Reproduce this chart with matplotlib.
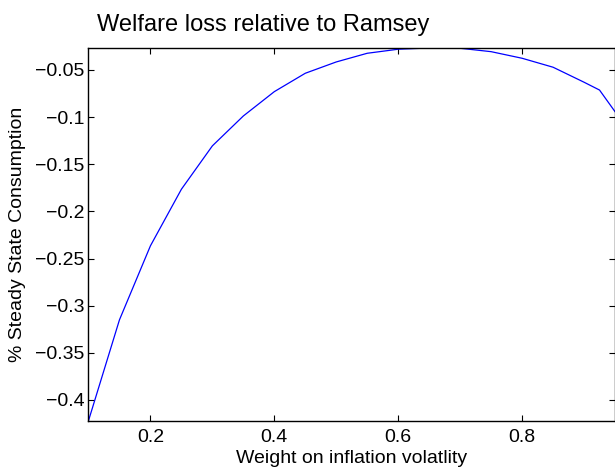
import matplotlib
matplotlib.use('Agg')
import matplotlib.pyplot as plt

plt.rcParams['font.family'] = ['Liberation Sans', 'DejaVu Sans']

# weight on inflation volatility vs welfare loss (% of steady state consumption)
weight = [0.10, 0.15, 0.20, 0.25, 0.30, 0.35, 0.40, 0.45, 0.50, 0.55,
          0.60, 0.65, 0.70, 0.75, 0.80, 0.85, 0.90, 0.925, 0.95]
loss = [-0.422, -0.315, -0.2365, -0.1765, -0.1305, -0.0988, -0.0730, -0.0535,
        -0.0415, -0.0323, -0.0280, -0.0267, -0.0270, -0.0306, -0.0376,
        -0.0471, -0.0630, -0.0713, -0.0942]

xticks = [0.2, 0.4, 0.6, 0.8]
xtick_labels = ['0.2', '0.4', '0.6', '0.8']
yticks = [-0.4, -0.35, -0.3, -0.25, -0.2, -0.15, -0.1, -0.05]
ytick_labels = ['\u22120.4', '\u22120.35', '\u22120.3', '\u22120.25',
                '\u22120.2', '\u22120.15', '\u22120.1', '\u22120.05']

fig = plt.figure(figsize=(6.15, 4.7), dpi=100)
ax = fig.add_axes([0.1439, 0.1049, 0.8561, 0.7930])

ax.plot(weight, loss, color='#0000ff', lw=0.9)
ax.set_xlim(min(weight), max(weight))
ax.set_ylim(min(loss), max(loss))

ax.set_xticks(xticks)
ax.set_xticklabels(xtick_labels)
ax.set_yticks(yticks)
ax.set_yticklabels(ytick_labels)
ax.tick_params(direction='in', length=4, width=0.8, labelsize=14,
               top=True, right=True)
ax.tick_params(axis='y', pad=3)
ax.tick_params(axis='x', pad=6)
for s in ax.spines.values():
    s.set_linewidth(1.0)

ax.set_xlabel('Weight on inflation volatlity', fontsize=14)
ax.set_ylabel('% Steady State Consumption', fontsize=14)
ax.xaxis.set_label_coords(0.5, -0.078)
ax.yaxis.set_label_coords(-0.118, 0.5)
fig.text(97 / 615, 1 - 30.7 / 470, 'Welfare loss relative to Ramsey',
         fontsize=17, ha='left', va='baseline')

fig.savefig('out.png', dpi=100, facecolor='white')
